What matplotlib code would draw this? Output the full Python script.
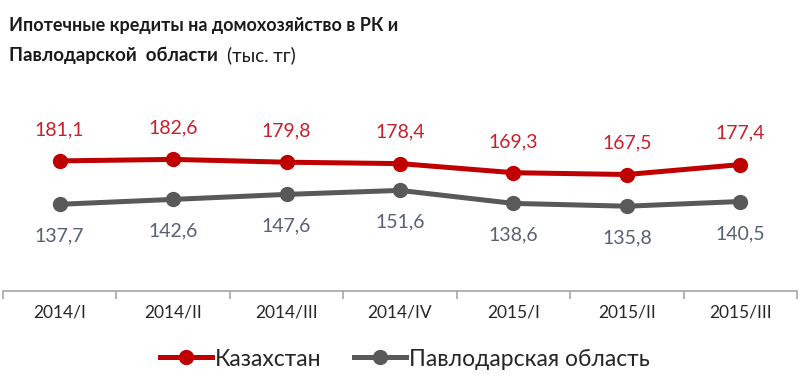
import matplotlib
matplotlib.use("Agg")
import matplotlib.pyplot as plt
from matplotlib.lines import Line2D

plt.rcParams['font.family'] = ['Lato', 'DejaVu Sans']

categories = ["2014/I", "2014/II", "2014/III", "2014/IV", "2015/I", "2015/II", "2015/III"]
kz = [181.1, 182.6, 179.8, 178.4, 169.3, 167.5, 177.4]
pav = [137.7, 142.6, 147.6, 151.6, 138.6, 135.8, 140.5]
series_names = ["Казахстан", "Павлодарская область"]

RED = "#C00000"
GRAY = "#595959"

W, H = 800, 387
fig = plt.figure(figsize=(W / 100, H / 100), dpi=100)
ax = fig.add_axes([3 / W, 1 - 291 / H, 794 / W, 191 / H])

x = list(range(len(categories)))
ax.plot(x, kz, color=RED, lw=3.6, marker='o', ms=10, solid_capstyle='round', zorder=3)
ax.plot(x, pav, color=GRAY, lw=3.6, marker='o', ms=10, solid_capstyle='round', zorder=3)

def fmt(v):
    return f"{v:.1f}".replace('.', ',')

for xi, v in zip(x, kz):
    ax.annotate(fmt(v), (xi, v), xytext=(0, 22.5), textcoords='offset points',
                ha='center', va='center', color="#C8202A", fontsize=14)
for xi, v in zip(x, pav):
    ax.annotate(fmt(v), (xi, v), xytext=(0, -23), textcoords='offset points',
                ha='center', va='center', color="#596070", fontsize=14)

ax.set_xlim(-0.5, len(categories) - 0.5)
ax.set_ylim(51, 242)
ax.set_yticks([])
for s in ['top', 'right', 'left']:
    ax.spines[s].set_visible(False)
ax.spines['bottom'].set_color('#A6A6A6')
ax.spines['bottom'].set_linewidth(1.2)
ax.set_xticks(x)
ax.set_xticklabels(categories, fontsize=12.5, color='#262626')
ax.tick_params(axis='x', which='major', length=0, pad=10)
ax.set_xticks([i - 0.5 for i in range(len(categories) + 1)], minor=True)
ax.tick_params(axis='x', which='minor', length=6, width=1.2, color='#A6A6A6')
ax.patch.set_alpha(0)

fig.text(9 / W, 1 - 25 / H, "Ипотечные кредиты на домохозяйство в РК и",
         fontsize=13, fontweight='bold', color='#1a1a1a', va='center', ha='left')
t2 = fig.text(9 / W, 1 - 55 / H, "Павлодарской  области  ",
              fontsize=13.5, fontweight='bold', color='#1a1a1a', va='center', ha='left')
fig.canvas.draw()
bb = t2.get_window_extent()
fig.text(bb.x1 / W, 1 - 55 / H, "(тыс. тг)", fontsize=13.5, color='#1a1a1a',
         va='center', ha='left')

handles = [Line2D([], [], color=RED, lw=3.6, marker='o', ms=10),
           Line2D([], [], color=GRAY, lw=3.6, marker='o', ms=10)]
fig.legend(handles, series_names, loc='center', bbox_to_anchor=(0.506, 1 - 359 / H),
           ncol=2, frameon=False, fontsize=16.5, handlelength=2.27, handletextpad=0.13,
           columnspacing=1.44, labelcolor='#262626', borderpad=0)

fig.savefig("out.png", dpi=100)
